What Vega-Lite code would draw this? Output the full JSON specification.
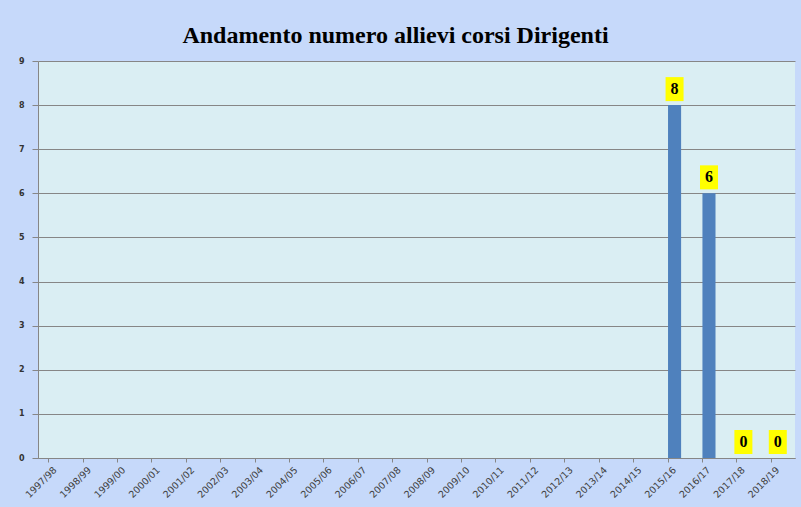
{
  "$schema": "https://vega.github.io/schema/vega-lite/v6.json",
  "width": 757,
  "height": 397,
  "autosize": {"type": "none"},
  "padding": {"left": 38, "top": 61, "right": 6, "bottom": 49},
  "background": "#C6D9FA",
  "title": {
    "text": "Andamento numero allievi corsi Dirigenti",
    "font": "Liberation Serif",
    "fontSize": 24,
    "fontWeight": "bold",
    "color": "#000000",
    "anchor": "middle",
    "dx": -21,
    "offset": 9
  },
  "config": {
    "view": {"fill": "#DAEEF3", "stroke": null}
  },
  "data": {
    "values": [
      {"anno": "1997/98", "allievi": null},
      {"anno": "1998/99", "allievi": null},
      {"anno": "1999/00", "allievi": null},
      {"anno": "2000/01", "allievi": null},
      {"anno": "2001/02", "allievi": null},
      {"anno": "2002/03", "allievi": null},
      {"anno": "2003/04", "allievi": null},
      {"anno": "2004/05", "allievi": null},
      {"anno": "2005/06", "allievi": null},
      {"anno": "2006/07", "allievi": null},
      {"anno": "2007/08", "allievi": null},
      {"anno": "2008/09", "allievi": null},
      {"anno": "2009/10", "allievi": null},
      {"anno": "2010/11", "allievi": null},
      {"anno": "2011/12", "allievi": null},
      {"anno": "2012/13", "allievi": null},
      {"anno": "2013/14", "allievi": null},
      {"anno": "2014/15", "allievi": null},
      {"anno": "2015/16", "allievi": 8},
      {"anno": "2016/17", "allievi": 6},
      {"anno": "2017/18", "allievi": 0},
      {"anno": "2018/19", "allievi": 0}
    ]
  },
  "encoding": {
    "x": {
      "field": "anno",
      "type": "nominal",
      "sort": null,
      "scale": {
        "domain": ["1997/98","1998/99","1999/00","2000/01","2001/02","2002/03","2003/04","2004/05","2005/06","2006/07","2007/08","2008/09","2009/10","2010/11","2011/12","2012/13","2013/14","2014/15","2015/16","2016/17","2017/18","2018/19"],
        "paddingInner": 0.62,
        "paddingOuter": 0.31
      },
      "axis": {
        "title": null,
        "labelAngle": -45,
        "labelAlign": "right",
        "labelBaseline": "middle",
        "labelFont": "DejaVu Sans",
        "labelFontSize": 9.5,
        "labelColor": "#404040",
        "labelPadding": 6,
        "bandPosition": 0,
        "tickSize": 4,
        "tickColor": "#868686",
        "domainColor": "#868686",
        "grid": false
      }
    },
    "y": {
      "field": "allievi",
      "type": "quantitative",
      "scale": {"domain": [0, 9], "nice": false},
      "axis": {
        "title": null,
        "values": [0,1,2,3,4,5,6,7,8,9],
        "labelFont": "DejaVu Sans",
        "labelFontSize": 8,
        "labelFontWeight": "bold",
        "labelColor": "#333333",
        "labelPadding": 8,
        "tickSize": 6,
        "tickColor": "#868686",
        "domainColor": "#868686",
        "gridColor": "#868686",
        "gridWidth": 1
      }
    }
  },
  "layer": [
    {"mark": {"type": "bar", "color": "#4F81BD"}},
    {
      "mark": {
        "type": "point",
        "shape": "M-0.75,-1L0.75,-1L0.75,1L-0.75,1Z",
        "size": 576,
        "filled": true,
        "color": "#FFFF00",
        "opacity": 1,
        "yOffset": -16
      }
    },
    {
      "mark": {
        "type": "text",
        "font": "Liberation Serif",
        "fontWeight": "bold",
        "fontSize": 16,
        "color": "#000000",
        "baseline": "middle",
        "dy": -16
      },
      "encoding": {"text": {"field": "allievi", "type": "quantitative"}}
    }
  ]
}
